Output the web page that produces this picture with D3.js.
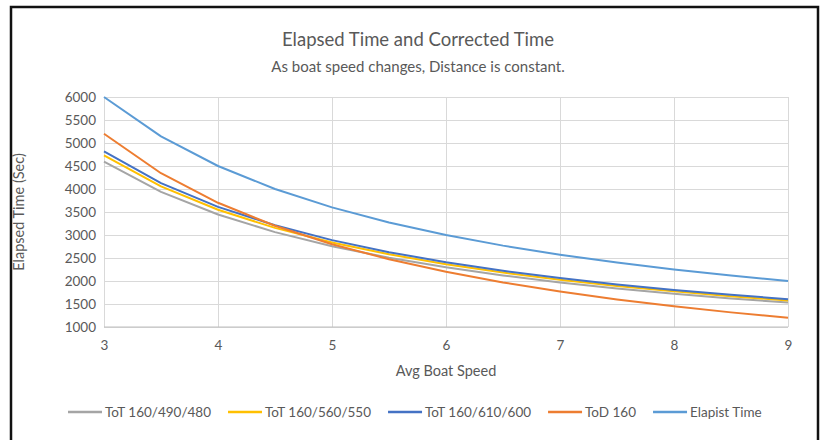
<html>
<head>
<style>
  body { margin: 0; background: white; }
  svg { display: block; font-family: Lato, "Open Sans", sans-serif; }
  .grid line { stroke: #d9d9d9; stroke-width: 1; shape-rendering: crispEdges; }
  .grid path { display: none; }
  .tick text { fill: #595959; font-size: 13.5px; }
</style>
</head>
<body>
<svg width="822" height="440"></svg>
<script src="https://d3js.org/d3.v7.min.js"></script>
<script>
var speeds = [3, 3.5, 4, 4.5, 5, 5.5, 6, 6.5, 7, 7.5, 8, 8.5, 9];
var tot490 = [4594, 3938, 3445, 3063, 2756, 2506, 2297, 2120, 1969, 1838, 1723, 1621, 1531];
var tot560 = [4732, 4056, 3549, 3155, 2839, 2581, 2366, 2184, 2028, 1893, 1775, 1670, 1577];
var tot610 = [4816, 4128, 3612, 3211, 2889, 2627, 2408, 2223, 2064, 1926, 1806, 1700, 1605];
var tod160 = [5200, 4343, 3700, 3200, 2800, 2473, 2200, 1969, 1771, 1600, 1450, 1318, 1200];
var elapsed = [6000, 5143, 4500, 4000, 3600, 3273, 3000, 2769, 2571, 2400, 2250, 2118, 2000];
var seriesNames = ["ToT 160/490/480", "ToT 160/560/550", "ToT 160/610/600", "ToD 160", "Elapist Time"];
var colors = ["#a5a5a5", "#ffc000", "#4472c4", "#ed7d31", "#5b9bd5"];
var xTicks = [3, 4, 5, 6, 7, 8, 9];
var yTicks = [1000, 1500, 2000, 2500, 3000, 3500, 4000, 4500, 5000, 5500, 6000];

var svg = d3.select("svg");
var margin = { left: 104, right: 34, top: 97, bottom: 113 },
    innerWidth = 822 - margin.left - margin.right,
    innerHeight = 440 - margin.top - margin.bottom;

// frame
svg.append("path")
    .attr("d", "M11,442 L11,7 L818,7 L818,442")
    .attr("fill", "none")
    .attr("stroke", "#111")
    .attr("stroke-width", 2.5);

var g = svg.append("g").attr("transform", "translate(" + margin.left + "," + margin.top + ")");

var xScale = d3.scaleLinear().domain([3, 9]).range([0, innerWidth]);
var yScale = d3.scaleLinear().domain([1000, 6000]).range([innerHeight, 0]);

g.append("g")
    .attr("class", "grid")
    .call(d3.axisLeft(yScale).tickValues(yTicks).tickFormat(d3.format("d"))
        .tickSize(-innerWidth).tickPadding(8))
    .attr("font-family", null).attr("font-size", null);

g.append("g")
    .attr("class", "grid")
    .attr("transform", "translate(0," + innerHeight + ")")
    .call(d3.axisBottom(xScale).tickValues(xTicks).tickFormat(d3.format("d"))
        .tickSize(-innerHeight).tickPadding(13))
    .attr("font-family", null).attr("font-size", null);

g.append("line")
    .attr("x1", 0).attr("x2", innerWidth)
    .attr("y1", innerHeight).attr("y2", innerHeight)
    .attr("stroke", "#bfbfbf");

var allSeries = [tot490, tot560, tot610, tod160, elapsed];
var line = d3.line()
    .x(function(d, i) { return xScale(speeds[i]); })
    .y(function(d) { return yScale(d); });

g.selectAll(".series")
    .data(allSeries)
    .enter()
    .append("path")
    .attr("class", "series")
    .attr("fill", "none")
    .attr("stroke", function(d, i) { return colors[i]; })
    .attr("stroke-width", 2)
    .attr("stroke-linejoin", "round")
    .attr("d", line);

// titles
svg.append("text")
    .attr("x", 418).attr("y", 46)
    .attr("text-anchor", "middle")
    .attr("fill", "#595959")
    .attr("font-size", 18.5)
    .text("Elapsed Time and Corrected Time");

svg.append("text")
    .attr("x", 418).attr("y", 72)
    .attr("text-anchor", "middle")
    .attr("fill", "#595959")
    .attr("font-size", 15)
    .text("As boat speed changes, Distance is constant.");

svg.append("text")
    .attr("transform", "translate(24," + (margin.top + innerHeight / 2) + ") rotate(-90)")
    .attr("text-anchor", "middle")
    .attr("fill", "#595959")
    .attr("font-size", 14.5)
    .text("Elapsed Time (Sec)");

svg.append("text")
    .attr("x", margin.left + innerWidth / 2).attr("y", 376)
    .attr("text-anchor", "middle")
    .attr("fill", "#595959")
    .attr("font-size", 14.5)
    .text("Avg Boat Speed");

// legend
var legend = svg.append("g").attr("transform", "translate(0,412)");
var lx = 68;
seriesNames.forEach(function(name, i) {
    legend.append("line")
        .attr("x1", lx).attr("x2", lx + 34)
        .attr("y1", 0).attr("y2", 0)
        .attr("stroke", colors[i]).attr("stroke-width", 2.5);
    var t = legend.append("text")
        .attr("x", lx + 37).attr("y", 5)
        .attr("fill", "#595959")
        .attr("font-size", 13.5)
        .text(name);
    lx += 37 + t.node().getComputedTextLength() + 17;
});
</script>
</body>
</html>
